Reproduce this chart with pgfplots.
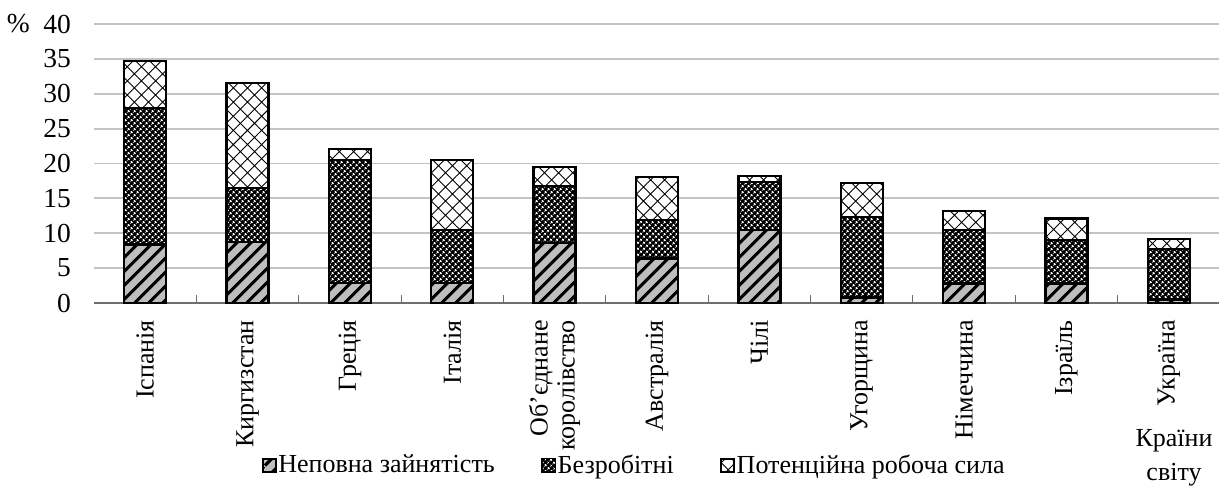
\documentclass[border=0pt]{standalone}
\usepackage{fontspec}
\setmainfont{Liberation Serif}
\usepackage{pgfplots}
\usepackage{pgfplotstable}
\pgfplotsset{compat=1.18}
\usetikzlibrary{patterns.meta}

\definecolor{gridgray}{RGB}{195,195,195}
\definecolor{stripegray}{RGB}{190,190,190}
\definecolor{axisgray}{RGB}{110,110,110}

% segments of each bar, bottom to top
\pgfplotstableread{
x under unemp potential
0 8.4 19.6 6.7
1 8.7 7.8 15.0
2 2.9 17.6 1.6
3 2.9 7.6 10.0
4 8.6 8.2 2.7
5 6.4 5.5 6.2
6 10.5 6.8 0.9
7 0.8 11.5 4.9
8 2.8 7.7 2.7
9 2.8 6.2 3.1
10 0.5 7.2 1.5
}\data

\tikzset{
  seg under/.style={draw=black, line width=2.3pt, preaction={fill=stripegray},
    pattern={Lines[angle=45,distance=10.5pt,line width=3.5pt]}, pattern color=black},
  seg unemp/.style={draw=black, line width=2.3pt, preaction={fill=black},
    pattern={Dots[distance=4pt,radius=1.45pt,angle=45]}, pattern color=white},
  seg pot/.style={draw=black, line width=2.3pt, preaction={fill=white},
    pattern={Hatch[angle=45,distance=10pt,line width=0.9pt]}, pattern color=black},
}

\begin{document}
\fontsize{26}{30}\selectfont
\begin{tikzpicture}
\begin{axis}[
  at={(94pt,188pt)}, anchor=south west,
  scale only axis, width=1126pt, height=279pt,
  ybar stacked, bar width=42pt,
  xmin=-0.5, xmax=10.5, ymin=0, ymax=40,
  ytick={0,5,...,40},
  xtick={0,...,10},
  xticklabels={Іспанія,Киргизстан,Греція,Італія,{Об’єднане\\королівство},Австралія,Чілі,Угорщина,Німеччина,Ізраїль,Україна},
  minor xtick={0.5,1.5,...,9.5},
  tick align=inside,
  major tick length=0pt, minor tick length=8pt,
  minor x tick style={draw=axisgray, line width=1pt},
  axis x line*=bottom, axis y line*=left,
  x axis line style={draw=axisgray, line width=1.3pt, -},
  y axis line style={draw=none},
  ymajorgrids, grid style={draw=gridgray, line width=1.8pt},
  /pgf/number format/assume math mode=true,
  yticklabel style={anchor=east, inner sep=0pt, xshift=-23pt, font=\fontsize{27.5}{30}\selectfont},
  xticklabel style={yshift=-17pt, rotate=90, anchor=east, inner sep=0pt, align=right, font=\fontsize{26}{27}\selectfont},
  legend style={draw=none, fill=none, at={(0.48,-0.584)}, anchor=center,
    legend columns=3, /tikz/every even column/.style={column sep=45pt},
    inner sep=0pt, font=\fontsize{26}{30}\selectfont},
  legend cell align=left,
  legend image code/.code={\draw[#1, line width=1pt] (0pt,-6pt) rectangle (13pt,7pt);},
]
\addplot[seg under] table[x=x, y=under] {\data};
\addplot[seg unemp] table[x=x, y=unemp] {\data};
\addplot[seg pot] table[x=x, y=potential] {\data};
\legend{Неповна зайнятість,Безробітні,Потенційна робоча сила}
\end{axis}
\node[anchor=east, inner sep=0pt, font=\fontsize{27.5}{30}\selectfont] at (30pt,467pt) {\%};
\node[align=center, inner sep=0pt, font=\fontsize{26}{34}\selectfont] at (1174pt,33pt) {Країни\\світу};
\pgfresetboundingbox
\path[use as bounding box] (0,0) rectangle (1219pt,491pt);
\end{tikzpicture}
\end{document}
